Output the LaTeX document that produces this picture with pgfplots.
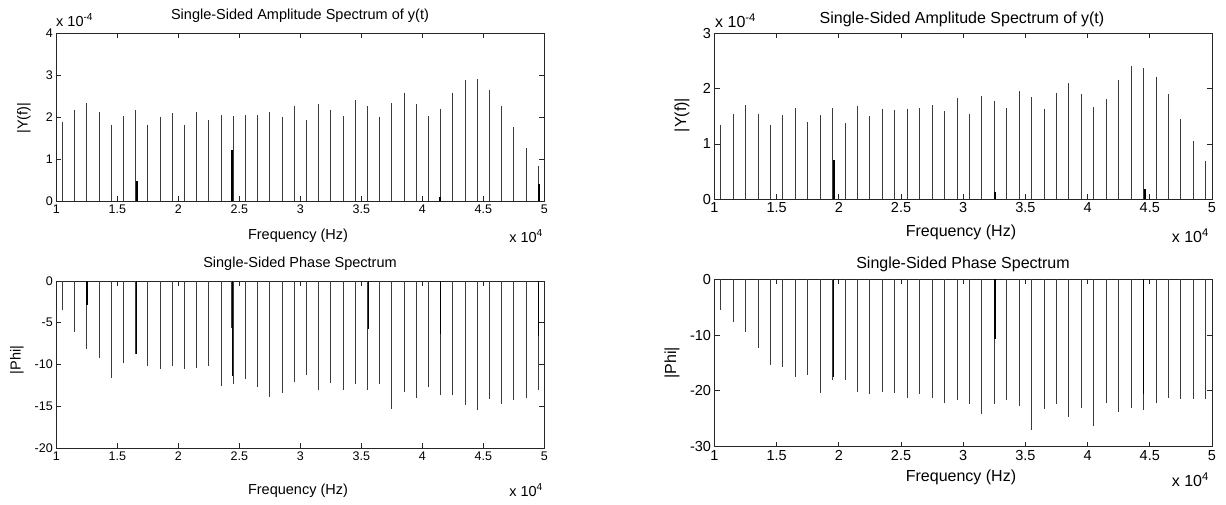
\documentclass[border=0pt]{standalone}
\usepackage{pgfplots}
\pgfplotsset{compat=1.18}
\usepackage{fontspec}
\setmainfont{Liberation Sans}
\definecolor{stem}{RGB}{60,60,60}
\pgfplotsset{
  spec/.style={
    scale only axis, anchor=south west,
    xmin=1, xmax=5,
    xtick={1,1.5,2,2.5,3,3.5,4,4.5,5},
    tick align=inside, major tick length=5pt,
    axis line style={black!85, line width=0.9pt},
    every tick/.style={black!85, line width=0.9pt},
    /pgf/number format/assume math mode=true,
    every axis plot/.append style={no marks},
  },
  lsty/.style={ticklabel style={font=\fontsize{12.5}{15}\selectfont}},
  rsty/.style={ticklabel style={font=\fontsize{14.5}{17}\selectfont}},
  mainstem/.style={ycomb, color=stem, line width=1pt},
  darkstem/.style={ycomb, color=black, line width=1.4pt},
}
\begin{document}
\begin{tikzpicture}[x=1pt,y=1pt]
\useasboundingbox (0,0) rectangle (1226,504);
% ---------- top left ----------
\begin{axis}[spec, lsty, at={(56.3pt,303pt)}, width=488pt, height=168pt,
  ymin=0, ymax=4, ytick={0,1,2,3,4}]
\addplot[mainstem] coordinates {
(1.05,1.89) (1.15,2.17) (1.25,2.34) (1.35,2.13) (1.45,1.81) (1.55,2.02) (1.65,2.17) (1.75,1.81) (1.85,1.99) (1.95,2.10)
(2.05,1.81) (2.15,2.13) (2.25,1.93) (2.35,2.04) (2.45,2.02) (2.55,2.05) (2.65,2.05) (2.75,2.13) (2.85,1.99) (2.95,2.25)
(3.05,1.93) (3.15,2.31) (3.25,2.17) (3.35,2.02) (3.45,2.40) (3.55,2.25) (3.65,1.99) (3.75,2.34) (3.85,2.58) (3.95,2.31)
(4.05,2.02) (4.15,2.20) (4.25,2.58) (4.35,2.88) (4.45,2.90) (4.55,2.64) (4.65,2.25) (4.75,1.75) (4.85,1.25) (4.95,0.84)};
\addplot[darkstem] coordinates {(1.663,0.48) (2.44,1.22) (4.145,0.10) (4.957,0.40)};
\end{axis}
% ---------- bottom left ----------
\begin{axis}[spec, lsty, at={(56.3pt,56pt)}, width=488pt, height=167pt,
  ymin=-20, ymax=0, ytick={-20,-15,-10,-5,0}]
\addplot[mainstem] coordinates {
(1.05,-3.50) (1.15,-6.16) (1.25,-8.19) (1.35,-9.26) (1.45,-11.65) (1.55,-9.86) (1.65,-8.79) (1.75,-10.18) (1.85,-10.58) (1.95,-10.18)
(2.05,-10.58) (2.15,-10.42) (2.25,-10.18) (2.35,-12.56) (2.45,-12.37) (2.55,-11.77) (2.65,-12.64) (2.75,-13.84) (2.85,-13.44) (2.95,-12.09)
(3.05,-11.30) (3.15,-13.08) (3.25,-12.25) (3.35,-13.08) (3.45,-12.37) (3.55,-13.08) (3.65,-12.37) (3.75,-15.31) (3.85,-13.24) (3.95,-13.96)
(4.05,-12.64) (4.15,-13.68) (4.25,-13.68) (4.35,-14.83) (4.45,-15.43) (4.55,-14.16) (4.65,-14.71) (4.75,-14.27) (4.85,-13.96) (4.95,-13.08)};
\addplot[darkstem] coordinates {(1.25,-2.9) (1.655,-8.79) (2.443,-11.37) (3.56,-5.8) (4.15,-6.4) (4.953,-6.56)};
\addplot[ycomb, color=stem, line width=0.7pt] coordinates {(2.437,-5.6)};
\end{axis}
% ---------- top right ----------
\begin{axis}[spec, rsty, at={(714.5pt,304.7pt)}, width=497.5pt, height=166pt,
  ymin=0, ymax=3, ytick={0,1,2,3}]
\addplot[mainstem] coordinates {
(1.05,1.34) (1.15,1.54) (1.25,1.70) (1.35,1.55) (1.45,1.34) (1.55,1.52) (1.65,1.65) (1.75,1.40) (1.85,1.52) (1.95,1.65)
(2.05,1.38) (2.15,1.69) (2.25,1.50) (2.35,1.63) (2.45,1.61) (2.55,1.63) (2.65,1.65) (2.75,1.70) (2.85,1.60) (2.95,1.83)
(3.05,1.55) (3.15,1.86) (3.25,1.77) (3.35,1.65) (3.45,1.96) (3.55,1.84) (3.65,1.63) (3.75,1.92) (3.85,2.11) (3.95,1.90)
(4.05,1.67) (4.15,1.81) (4.25,2.16) (4.35,2.40) (4.45,2.38) (4.55,2.21) (4.65,1.90) (4.75,1.46) (4.85,1.05) (4.95,0.69)};
\addplot[darkstem] coordinates {(1.96,0.71) (3.255,0.13) (4.46,0.19)};
\end{axis}
% ---------- bottom right ----------
\begin{axis}[spec, rsty, at={(714.5pt,57.3pt)}, width=497.5pt, height=167.4pt,
  ymin=-30, ymax=0, ytick={-30,-20,-10,0}]
\addplot[mainstem] coordinates {
(1.05,-5.50) (1.15,-7.59) (1.25,-9.50) (1.35,-12.37) (1.45,-15.42) (1.55,-15.66) (1.65,-17.45) (1.75,-17.15) (1.85,-20.38) (1.95,-18.05)
(2.05,-18.05) (2.15,-20.14) (2.25,-20.56) (2.35,-20.20) (2.45,-20.38) (2.55,-21.28) (2.65,-20.50) (2.75,-21.34) (2.85,-22.12) (2.95,-21.58)
(3.05,-22.41) (3.15,-24.15) (3.25,-22.41) (3.35,-21.70) (3.45,-22.65) (3.55,-27.02) (3.65,-23.19) (3.75,-22.41) (3.85,-24.63) (3.95,-23.01)
(4.05,-26.24) (4.15,-22.12) (4.25,-23.79) (4.35,-23.01) (4.45,-23.37) (4.55,-22.12) (4.65,-21.34) (4.75,-21.52) (4.85,-21.52) (4.95,-21.52)};
\addplot[darkstem] coordinates {(1.955,-17.45) (3.255,-10.76) (4.45,-20.56)};
\end{axis}
% ---------- texts left ----------
\begin{scope}[every node/.style={font=\fontsize{14.5}{17}\selectfont, inner sep=0pt}]
\node at (300,488) {Single-Sided Amplitude Spectrum of y(t)};
\node at (298,268) {Frequency (Hz)};
\node[anchor=east] at (543,268) {x 10\textsuperscript{4}};
\node[anchor=west] at (56,484) {x 10\textsuperscript{-4}};
\node[rotate=90] at (24,386) {|Y(f)|};
\node at (300,240) {Single-Sided Phase Spectrum};
\node at (298,13) {Frequency (Hz)};
\node[anchor=east] at (543,14) {x 10\textsuperscript{4}};
\node[rotate=90] at (17,144) {|Phi|};
\end{scope}
% ---------- texts right ----------
\begin{scope}[every node/.style={font=\fontsize{16}{19}\selectfont, inner sep=0pt}]
\node at (962,485) {Single-Sided Amplitude Spectrum of y(t)};
\node at (961,272) {Frequency (Hz)};
\node[anchor=east] at (1209,268) {x 10\textsuperscript{4}};
\node[anchor=west] at (715,483) {x 10\textsuperscript{-4}};
\node[rotate=90] at (682,389) {|Y(f)|};
\node at (963,240) {Single-Sided Phase Spectrum};
\node at (961,27) {Frequency (Hz)};
\node[anchor=east] at (1209,24) {x 10\textsuperscript{4}};
\node[rotate=90] at (672,141) {|Phi|};
\end{scope}
\end{tikzpicture}
\end{document}
